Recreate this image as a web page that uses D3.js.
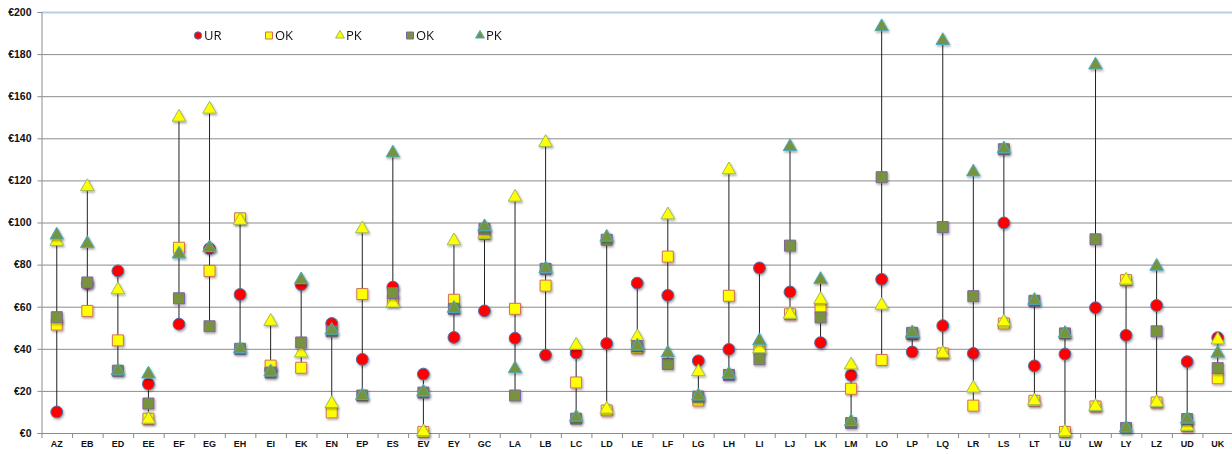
<!DOCTYPE html>
<meta charset="utf-8">
<title>UR / OK / PK</title>
<style>
body { margin: 0; background: #fff; }
svg { display: block; }
.tick text { font-family: "Liberation Sans", Arial, sans-serif; font-weight: bold; }
.legend text { font-family: "Open Sans", "Liberation Sans", sans-serif; font-size: 13px; fill: #111; }
</style>
<svg width="1232" height="454"></svg>
<script src="https://d3js.org/d3.v7.min.js"></script>
<script>
const categories = ["AZ","EB","ED","EE","EF","EG","EH","EI","EK","EN","EP","ES","EV","EY","GC","LA","LB","LC","LD","LE","LF","LG","LH","LI","LJ","LK","LM","LO","LP","LQ","LR","LS","LT","LU","LW","LY","LZ","UD","UK"];
const ur  = [10, 71, 77, 23.3, 51.7, 87.6, 65.8, 30, 70.5, 52, 35, 69.3, 28, 45.4, 58, 45, 37, 38, 42.5, 71.2, 65.4, 34.3, 39.7, 78.4, 67, 42.9, 27.4, 73, 38.5, 51, 37.8, 99.8, 31.9, 37.5, 59.5, 46.4, 60.6, 33.9, 45.3];
const okA = [51.5, 58, 44, 6.8, 88, 77, 102, 32, 31, 9.8, 66, 63, 0.5, 63.3, 94.5, 59, 70, 24, 10.7, 40.2, 83.8, 15.4, 65.2, 39.7, 56.4, 59.5, 21, 34.7, 47, 37.8, 13, 52, 15.3, 0.5, 12.6, 72.6, 14.5, 3.2, 26];
const pkA = [91, 117, 68, 6.5, 150, 153.8, 101, 53, 38, 14, 97, 61.7, 0.6, 91.3, 94.5, 112, 138, 41.7, 11.3, 45.7, 103.6, 29.1, 125, 40, 56.4, 63.4, 32.3, 60.7, 47, 37.8, 21.3, 52.8, 15.3, 0.5, 12.6, 72.6, 14.5, 3.2, 44.2];
const okB = [55, 71.5, 29.6, 14, 64, 50.7, 40, 28.7, 43, 48.3, 17.8, 66.5, 19.2, 59, 97, 17.8, 78, 6.8, 91.8, 41.3, 32.8, 17.3, 27.6, 35, 89, 54.9, 4.7, 121.5, 47.6, 97.8, 65, 134.8, 62.8, 47.3, 92, 2.4, 48.3, 6.6, 30.8];
const pkB = [94, 90, 29.5, 28, 85, 88, 40, 29, 72.8, 48.8, 17.8, 133, 19.5, 59.2, 98, 30.5, 78, 7.5, 93, 41.3, 38, 17.6, 28, 43.8, 136, 72.9, 5.4, 193, 47.6, 186.4, 124, 135, 63, 47.3, 174.8, 2.4, 79.2, 6.6, 37.9];
const yTicks = [0, 20, 40, 60, 80, 100, 120, 140, 160, 180, 200];

const series = [
  { name: "UR", values: ur,  type: d3.symbolCircle,   size: 110, fill: "#ff0000", stroke: "#4f6fa8" },
  { name: "OK", values: okA, type: d3.symbolSquare,   size: 121, fill: "#ffff00", stroke: "#d0705a" },
  { name: "PK", values: pkA, type: d3.symbolTriangle, size: 80,  fill: "#ffff00", stroke: "#9bbb59" },
  { name: "OK", values: okB, type: d3.symbolSquare,   size: 121, fill: "#77933c", stroke: "#8064a2" },
  { name: "PK", values: pkB, type: d3.symbolTriangle, size: 80,  fill: "#77933c", stroke: "#4bacc6" }
];

const svg = d3.select("svg");
const plotLeft = 41.5, plotRight = 1233, plotTop = 12, plotBottom = 433;

const defs = svg.append("defs");
defs.append("filter").attr("id", "shadow").attr("x", "-50%").attr("y", "-50%").attr("width", "200%").attr("height", "200%")
  .append("feDropShadow").attr("dx", 1).attr("dy", 1.5).attr("stdDeviation", 1).attr("flood-opacity", 0.35);

const x = d3.scaleBand().domain(categories).range([plotLeft, plotRight]);
const y = d3.scaleLinear().domain([0, 200]).range([plotBottom, plotTop]);

// gridlines
svg.append("g").selectAll("line")
  .data(yTicks.filter(d => d > 0 && d < 200))
  .enter().append("line")
  .attr("x1", plotLeft).attr("x2", plotRight)
  .attr("y1", d => y(d) + 0.5).attr("y2", d => y(d) + 0.5)
  .attr("stroke", "#8c8c8c").attr("stroke-width", 1);

svg.append("line")
  .attr("x1", plotLeft).attr("x2", plotRight)
  .attr("y1", y(200) + 0.5).attr("y2", y(200) + 0.5)
  .attr("stroke", "#b9cde5").attr("stroke-width", 2);

// y axis
const yAxis = svg.append("g").attr("transform", `translate(${plotLeft},0)`)
  .call(d3.axisLeft(y).tickValues(yTicks).tickFormat(d => "€" + d).tickSize(4).tickPadding(6));
yAxis.select(".domain").attr("stroke", "#8c8c8c");
yAxis.selectAll(".tick line").attr("stroke", "#8c8c8c");
yAxis.selectAll(".tick text").attr("font-size", 10.5).attr("fill", "#111");

// x axis
const xAxis = svg.append("g").attr("transform", `translate(0,${plotBottom})`)
  .call(d3.axisBottom(x).tickSize(0).tickPadding(8));
xAxis.select(".domain").attr("stroke", "#8c8c8c");
xAxis.selectAll(".tick text").attr("font-size", 9).attr("fill", "#111");
xAxis.selectAll("line.sep")
  .data(categories)
  .enter().append("line").attr("class", "sep")
  .attr("x1", d => x(d) + 0.5).attr("x2", d => x(d) + 0.5)
  .attr("y1", 0).attr("y2", 5)
  .attr("stroke", "#8c8c8c");

// high-low lines
svg.append("g").selectAll("line")
  .data(categories)
  .enter().append("line")
  .attr("x1", d => x(d) + x.bandwidth() / 2)
  .attr("x2", d => x(d) + x.bandwidth() / 2)
  .attr("y1", (d, i) => y(d3.max(series, s => s.values[i])))
  .attr("y2", (d, i) => y(d3.min(series, s => s.values[i])))
  .attr("stroke", "#222").attr("stroke-width", 1);

// markers
series.forEach(s => {
  svg.append("g").attr("filter", "url(#shadow)").selectAll("path")
    .data(categories)
    .enter().append("path")
    .attr("d", d3.symbol().type(s.type).size(s.size))
    .attr("transform", (d, i) => `translate(${x(d) + x.bandwidth() / 2},${y(s.values[i])})`)
    .attr("fill", s.fill).attr("stroke", s.stroke).attr("stroke-width", 1);
});

// legend
const legendX = [198, 269, 340, 410, 480];
const legend = svg.append("g").attr("class", "legend");
series.forEach((s, i) => {
  const g = legend.append("g").attr("transform", `translate(${legendX[i]},35.5)`);
  g.append("path")
    .attr("d", d3.symbol().type(s.type).size(s.type === d3.symbolCircle ? 42 : s.type === d3.symbolSquare ? 49 : 34))
    .attr("fill", s.fill).attr("stroke", s.stroke).attr("stroke-width", 1);
  g.append("text").attr("x", 6).attr("dy", "0.35em").text(s.name);
});
</script>
